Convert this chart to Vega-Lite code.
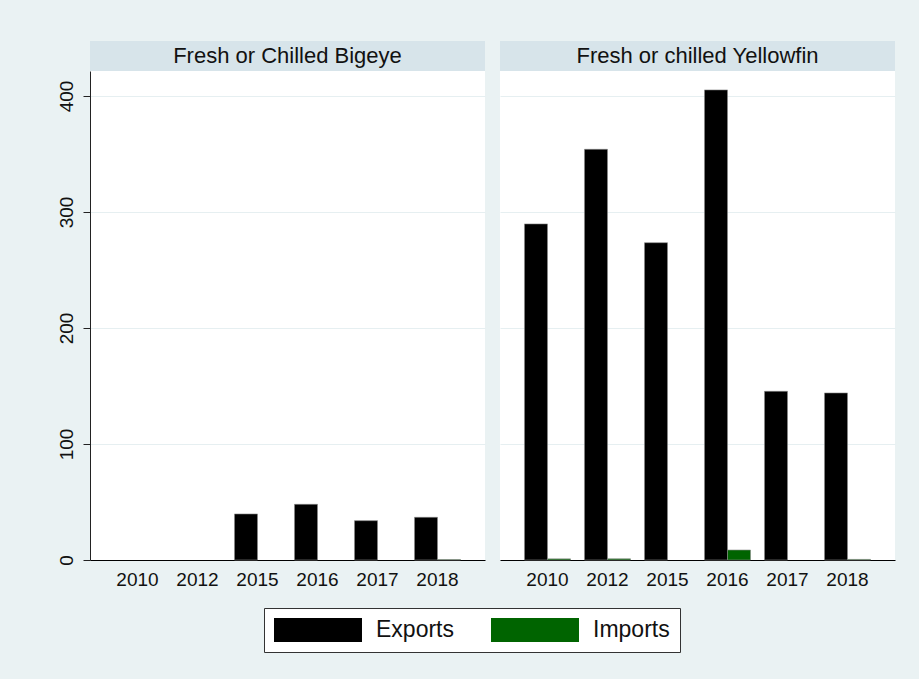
{
  "$schema": "https://vega.github.io/schema/vega-lite/v6.json",
  "background": "#EAF2F3",
  "padding": {"top": 41, "left": 57, "right": 24, "bottom": 27},
  "bounds": "flush",
  "columns": 2,
  "spacing": {"row": 0, "column": 15},
  "config": {
    "font": "Liberation Sans",
    "view": {"stroke": null},
    "legend": {"labelFont": "Liberation Sans"}
  },
  "datasets": {
    "trade": [
      {"panel": "Fresh or Chilled Bigeye", "year": "2015", "flow": "Exports", "value": 39.7},
      {"panel": "Fresh or Chilled Bigeye", "year": "2016", "flow": "Exports", "value": 48},
      {"panel": "Fresh or Chilled Bigeye", "year": "2017", "flow": "Exports", "value": 33.9},
      {"panel": "Fresh or Chilled Bigeye", "year": "2018", "flow": "Exports", "value": 36.8},
      {"panel": "Fresh or Chilled Bigeye", "year": "2018", "flow": "Imports", "value": 0.4},
      {"panel": "Fresh or chilled Yellowfin", "year": "2010", "flow": "Exports", "value": 289.7},
      {"panel": "Fresh or chilled Yellowfin", "year": "2010", "flow": "Imports", "value": 1},
      {"panel": "Fresh or chilled Yellowfin", "year": "2012", "flow": "Exports", "value": 354},
      {"panel": "Fresh or chilled Yellowfin", "year": "2012", "flow": "Imports", "value": 1},
      {"panel": "Fresh or chilled Yellowfin", "year": "2015", "flow": "Exports", "value": 273.5},
      {"panel": "Fresh or chilled Yellowfin", "year": "2016", "flow": "Exports", "value": 405.2},
      {"panel": "Fresh or chilled Yellowfin", "year": "2016", "flow": "Imports", "value": 8.6},
      {"panel": "Fresh or chilled Yellowfin", "year": "2017", "flow": "Exports", "value": 145.4},
      {"panel": "Fresh or chilled Yellowfin", "year": "2018", "flow": "Exports", "value": 144},
      {"panel": "Fresh or chilled Yellowfin", "year": "2018", "flow": "Imports", "value": 0.5}
    ],
    "panels": [
      {"panel": "Fresh or Chilled Bigeye"},
      {"panel": "Fresh or chilled Yellowfin"}
    ]
  },
  "concat": [
    {
      "data": {"name": "panels"},
      "transform": [{"filter": "datum.panel === 'Fresh or Chilled Bigeye'"}],
      "width": 395, "height": 30,
      "view": {"fill": "#D7E4EA", "stroke": null},
      "mark": {"type": "text", "fontSize": 22, "color": "#111111", "baseline": "middle"},
      "encoding": {"text": {"field": "panel"}}
    },
    {
      "data": {"name": "panels"},
      "transform": [{"filter": "datum.panel === 'Fresh or chilled Yellowfin'"}],
      "width": 395, "height": 30,
      "view": {"fill": "#D7E4EA", "stroke": null},
      "mark": {"type": "text", "fontSize": 22, "color": "#111111", "baseline": "middle"},
      "encoding": {"text": {"field": "panel"}}
    },
    {
      "data": {"name": "trade"},
      "transform": [{"filter": "datum.panel === 'Fresh or Chilled Bigeye'"}],
      "width": 395, "height": 489,
      "view": {"fill": "white", "stroke": null},
      "mark": {"type": "bar", "stroke": "#8a8a8a", "strokeWidth": 0.6},
      "encoding": {
        "x": {"field": "year", "type": "nominal",
              "scale": {"domain": ["2010","2012","2015","2016","2017","2018"], "paddingInner": 0.233, "paddingOuter": 0.408},
              "axis": {"title": null, "labelAngle": 0, "ticks": false, "domainColor": "#000000", "domainWidth": 1.2, "labelFontSize": 19, "labelColor": "#111111", "labelPadding": 10, "grid": false}},
        "xOffset": {"field": "flow", "type": "nominal", "scale": {"domain": ["Exports","Imports"], "paddingInner": 0, "paddingOuter": 0}},
        "y": {"field": "value", "type": "quantitative",
              "scale": {"domain": [0, 421.5], "nice": false},
              "axis": {"title": null, "values": [0,100,200,300,400], "labelAngle": -90, "labelAlign": "center", "labelBaseline": "bottom", "labelFontSize": 19, "labelColor": "#111111", "labelPadding": 7, "tickSize": 7, "tickColor": "#222222", "domainColor": "#222222", "grid": true, "gridColor": "#E6EFF1", "gridWidth": 1}},
        "color": {"field": "flow", "type": "nominal",
                  "scale": {"domain": ["Exports","Imports"], "range": ["#000000","#006400"]},
                  "legend": {"title": null, "orient": "none", "legendX": 174, "legendY": 567, "direction": "horizontal", "symbolType": "M-1,-1H6.333V1H-1Z", "symbolSize": 576, "symbolStrokeWidth": 0, "labelFontSize": 23, "labelColor": "#111111", "labelOffset": 78, "columnPadding": 37, "strokeColor": "#333333", "fillColor": "white", "padding": 10}}
      }
    },
    {
      "data": {"name": "trade"},
      "transform": [{"filter": "datum.panel === 'Fresh or chilled Yellowfin'"}],
      "width": 395, "height": 489,
      "view": {"fill": "white", "stroke": null},
      "mark": {"type": "bar", "stroke": "#8a8a8a", "strokeWidth": 0.6},
      "encoding": {
        "x": {"field": "year", "type": "nominal",
              "scale": {"domain": ["2010","2012","2015","2016","2017","2018"], "paddingInner": 0.233, "paddingOuter": 0.408},
              "axis": {"title": null, "labelAngle": 0, "ticks": false, "domainColor": "#000000", "domainWidth": 1.2, "labelFontSize": 19, "labelColor": "#111111", "labelPadding": 10, "grid": false}},
        "xOffset": {"field": "flow", "type": "nominal", "scale": {"domain": ["Exports","Imports"], "paddingInner": 0, "paddingOuter": 0}},
        "y": {"field": "value", "type": "quantitative",
              "scale": {"domain": [0, 421.5], "nice": false},
              "axis": {"title": null, "values": [100,200,300,400], "labels": false, "ticks": false, "domain": false, "grid": true, "gridColor": "#E6EFF1", "gridWidth": 1}},
        "color": {"field": "flow", "type": "nominal",
                  "scale": {"domain": ["Exports","Imports"], "range": ["#000000","#006400"]},
                  "legend": {"title": null, "orient": "none", "legendX": 174, "legendY": 567, "direction": "horizontal", "symbolType": "M-1,-1H6.333V1H-1Z", "symbolSize": 576, "symbolStrokeWidth": 0, "labelFontSize": 23, "labelColor": "#111111", "labelOffset": 78, "columnPadding": 37, "strokeColor": "#333333", "fillColor": "white", "padding": 10}}
      }
    }
  ]
}
